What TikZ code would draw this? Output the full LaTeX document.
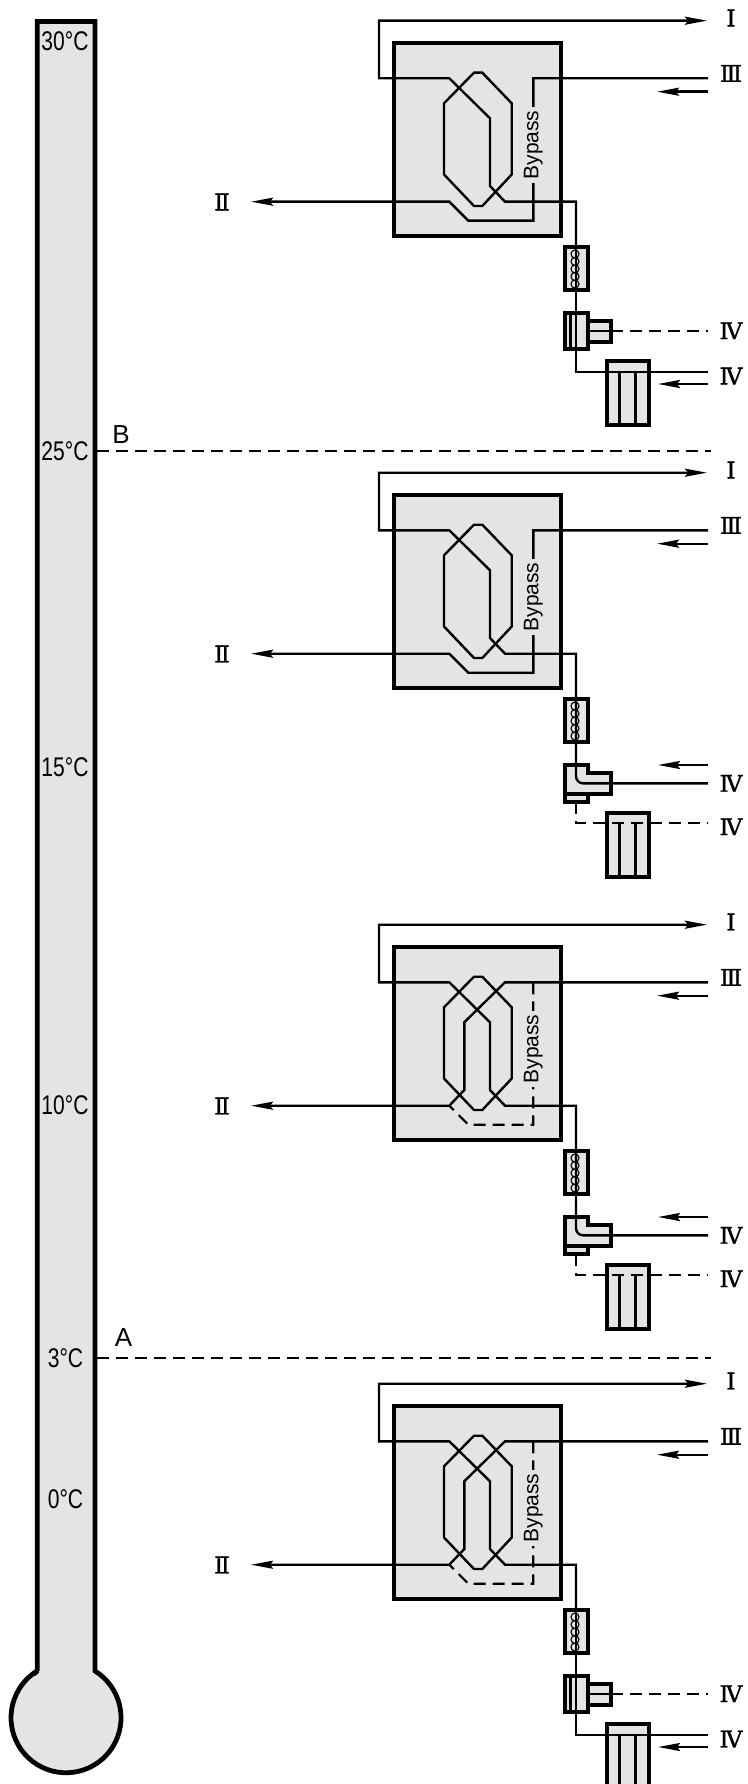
\documentclass[tikz,border=0pt]{standalone}
\usepackage{fontspec}
\setmainfont{Liberation Sans}
\newfontfamily\narrowfont[FakeStretch=0.78]{Liberation Sans}
\newfontfamily\romanfont[FakeBold=1.2]{DejaVu Serif}
\usetikzlibrary{arrows.meta}
\definecolor{unitgray}{gray}{0.895}
\tikzset{
    thermo/.style={draw, line width=4.8pt, fill=unitgray},
    casing/.style={draw, line width=4.8pt, fill=unitgray},
    unit/.style={draw, line width=4pt, fill=unitgray},
    pipe/.style={line width=2.4pt},
    shut/.style={line width=2.2pt, dash pattern=on 12pt off 7pt},
    level/.style={line width=2pt, dash pattern=on 12pt off 7pt},
    outflow/.style={-{Stealth[length=22pt,width=8pt,inset=3pt]}},
    heatcoil/.style={line width=1.1pt},
    numeral/.style={inner sep=0pt, font=\romanfont\fontsize{23}{23}\selectfont},
    degree/.style={inner sep=0pt, font=\narrowfont\fontsize{27}{27}\selectfont},
    letter/.style={inner sep=0pt, font=\fontsize{26}{26}\selectfont},
    bypassnote/.style={rotate=90, fill=unitgray, inner xsep=4pt, inner ysep=1pt,
        font=\fontsize{21}{21}\selectfont}
}
\tikzset{
    exchanger/.pic={
        \draw[casing] (394,43) rectangle (561,236);
        \draw[pipe] (474,72.7) -- (482.3,72.7) -- (511.7,103.3) -- (511.7,174.5)
            -- (482.3,206) -- (474,206) -- (444,174.5) -- (444,103.3) -- cycle;
        \coordinate (-feed) at (576,248);
        \coordinate (-Iend) at (707,20.7);
        \coordinate (-IIIstart) at (708,78.3);
        \coordinate (-IIend) at (251,201.7);
        \coordinate (-hint1) at (708,91.7);
        \coordinate (-hint2) at (657,91.7);
        \draw[pipe,outflow] (-feed) -- (576,201.7) -- (505,201.7) -- (490,186)
            -- (490,118.3) -- (449.3,78.3) -- (379,78.3) -- (379,20.7) -- (-Iend);
        \draw[pipe,outflow] (-hint1) -- (-hint2);
        \node[numeral] (-I) at (731,18) {Ⅰ};
        \node[numeral] (-III) at (731,73.4) {Ⅲ};
        \node[numeral] (-II) at (222,202) {Ⅱ};
    },
    bypass open/.pic={
        \draw[pipe,outflow] (-IIIstart) -- (533.3,78.3) -- (533.3,220.7)
            -- (468.3,220.7) -- (449.3,201.7) -- (-IIend);
        \node[bypassnote] (-note) at (533.3,145) {Bypass};
    },
    bypass shut/.pic={
        \draw[pipe,outflow] (-IIIstart) -- (505,78.3) -- (464.3,118.3) -- (464.3,186)
            -- (449.3,201.7) -- (-IIend);
        \draw[shut] (533.3,78.3) -- (533.3,220.7) -- (468.3,220.7) -- (449.3,201.7);
        \node[bypassnote] (-note) at (533.3,145) {Bypass};
    },
    feed summer/.pic={
        \draw[unit] (565,247) rectangle (587.7,290);
        \draw[unit] (587.7,321) rectangle (611,342);
        \draw[unit] (565,313) rectangle (587.7,349);
        \draw[unit] (607,361) rectangle (649,425);
        \coordinate (-IVtop) at (708,330.7);
        \coordinate (-IVlow) at (708,371.7);
        \coordinate (-hint3) at (708,384);
        \coordinate (-hint4) at (658,384);
        \draw[pipe] (-IVlow) -- (576,371.7) -- (576,247);
        \draw[pipe] (570.5,313) -- (570.5,349);
        \draw[pipe] (587.7,330.7) -- (611,330.7);
        \draw[shut] (611,330.7) -- (-IVtop);
        \draw[line width=3pt] (619.3,371.7) -- (619.3,425) (635,371.7) -- (635,425);
        \draw[heatcoil] (575,254) circle[radius=4] (575,261.5) circle[radius=4]
            (575,269) circle[radius=4] (575,276.5) circle[radius=4] (575,284) circle[radius=4];
        \draw[pipe,outflow] (-hint3) -- (-hint4);
        \node[numeral] (-IVa) at (731,330.7) {Ⅳ};
        \node[numeral] (-IVb) at (731,376) {Ⅳ};
    },
    feed winter/.pic={
        \draw[unit] (565,247) rectangle (587.7,290);
        \draw[unit] (565,342) rectangle (587.7,350);
        \draw[unit] (565,313) -- (587.7,313) -- (587.7,321) -- (611,321)
            -- (611,342) -- (565,342) -- cycle;
        \draw[unit] (607,361) rectangle (649,425);
        \coordinate (-IVtop) at (708,331.3);
        \coordinate (-IVlow) at (708,371.3);
        \coordinate (-hint3) at (708,313);
        \coordinate (-hint4) at (658,313);
        \draw[pipe,rounded corners=7pt] (-IVtop) -- (576,331.3) -- (576,247);
        \draw[shut] (576,350) -- (576,371.3) -- (-IVlow);
        \draw[line width=3pt] (619.3,371.3) -- (619.3,425) (635,371.3) -- (635,425);
        \draw[heatcoil] (575,254) circle[radius=4] (575,261.5) circle[radius=4]
            (575,269) circle[radius=4] (575,276.5) circle[radius=4] (575,284) circle[radius=4];
        \draw[pipe,outflow] (-hint3) -- (-hint4);
        \node[numeral] (-IVa) at (731,331.3) {Ⅳ};
        \node[numeral] (-IVb) at (731,374.7) {Ⅳ};
    }
}

\begin{document}
\begin{tikzpicture}[x=1pt,y=-1pt]
	\useasboundingbox (0,0) rectangle (747,1784);
	\draw[thermo] (37.2,1671) -- (37.2,21.5) -- (95,21.5) -- (95,1671)
		arc[start angle=-58.2, end angle=238.8, radius=55] -- cycle;
	\node[degree] (t30) at (65,41.7) {30°C};
	\node[degree] (t25) at (65,451.7) {25°C};
	\node[degree] (t15) at (65,767.6) {15°C};
	\node[degree] (t10) at (65,1105) {10°C};
	\node[degree] (t3) at (65.5,1358) {3°C};
	\node[degree] (t0) at (65.5,1499) {0°C};

	\coordinate (B0) at (97,451); \coordinate (B1) at (710.5,451);
	\coordinate (A0) at (97,1358); \coordinate (A1) at (710.5,1358);
	\draw[level] (B0) -- (B1);
	\draw[level] (A0) -- (A1);
	\node[letter] (B) at (121,434.5) {B};
	\node[letter] (A) at (123.5,1338) {A};

	\pic (s1) at (0,0) {exchanger};
	\pic (s1) at (0,0) {bypass open};
	\pic (s1) at (0,0) {feed summer};
	\pic (s2) at (0,452) {exchanger};
	\pic (s2) at (0,452) {bypass open};
	\pic (s2) at (0,452) {feed winter};
	\pic (s3) at (0,904) {exchanger};
	\pic (s3) at (0,904) {bypass shut};
	\pic (s3) at (0,904) {feed winter};
	\pic (s4) at (0,1363) {exchanger};
	\pic (s4) at (0,1363) {bypass shut};
	\pic (s4) at (0,1363) {feed summer};
\end{tikzpicture}
\end{document}
